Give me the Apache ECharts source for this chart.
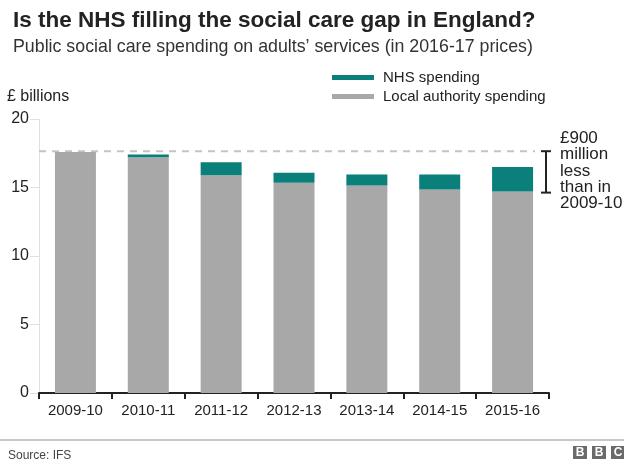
<!DOCTYPE html>
<html>
<head>
<meta charset="utf-8">
<script src="https://cdn.jsdelivr.net/npm/echarts@6/dist/echarts.min.js"></script>
<style>
html,body{margin:0;padding:0;background:#fff;}
#chart{width:624px;height:467px;}
</style>
</head>
<body>
<div id="chart"></div>
<script>
const categories = ['2009-10', '2010-11', '2011-12', '2012-13', '2013-14', '2014-15', '2015-16'];
const localAuthority = [17.6, 17.2, 15.9, 15.35, 15.15, 14.85, 14.7];
const nhs = [0, 0.2, 0.95, 0.73, 0.8, 1.1, 1.8];
const yMin = 0, yMax = 20, yInterval = 5;
const refLevel = 17.65;
const annotationLines = ['£900', 'million', 'less', 'than in', '2009-10'];

const FONT = '"Liberation Sans", Arial, Helvetica, sans-serif';
const TEAL = '#0b7f7a';
const GREY = '#a8a8a8';

const chart = echarts.init(document.getElementById('chart'), null, {renderer: 'canvas'});

const option = {
  animation: false,
  backgroundColor: '#fff',
  textStyle: {fontFamily: FONT},
  title: [
    {text: 'Is the NHS filling the social care gap in England?', left: 8, top: 2,
     textStyle: {fontFamily: FONT, fontSize: 22.5, fontWeight: 'bold', color: '#222', lineHeight: 28}},
    {text: 'Public social care spending on adults\u2019 services (in 2016-17 prices)', left: 8, top: 31,
     textStyle: {fontFamily: FONT, fontSize: 17.8, fontWeight: 'normal', color: '#333', lineHeight: 22}}
  ],
  legend: {
    orient: 'vertical', left: 327, top: 65, itemGap: 4,
    itemWidth: 42, itemHeight: 5, icon: 'rect',
    data: ['NHS spending', 'Local authority spending'],
    textStyle: {fontFamily: FONT, fontSize: 15, color: '#222', padding: [0, 0, 0, 4]},
    selectedMode: false
  },
  grid: {left: 39, right: 75, top: 119, bottom: 74, containLabel: false},
  xAxis: {
    type: 'category', data: categories,
    axisLine: {lineStyle: {color: '#222', width: 2}},
    axisTick: {show: true, length: 6, lineStyle: {color: '#222', width: 2}},
    axisLabel: {fontFamily: FONT, fontSize: 15, color: '#222', margin: 10}
  },
  yAxis: {
    type: 'value', min: yMin, max: yMax, interval: yInterval,
    axisLine: {show: true, lineStyle: {color: '#e0e0e0', width: 1}},
    axisTick: {show: true, length: 9, lineStyle: {color: '#e0e0e0'}},
    splitLine: {show: false},
    axisLabel: {fontFamily: FONT, fontSize: 16, color: '#222', margin: 10}
  },
  series: [
    {name: 'Local authority spending', type: 'bar', stack: 'total', data: localAuthority,
     barWidth: 41, itemStyle: {color: GREY}},
    {name: 'NHS spending', type: 'bar', stack: 'total', data: nhs,
     barWidth: 41, itemStyle: {color: TEAL}}
  ]
};
chart.setOption(option);

function addGraphics() {
  const yRef = chart.convertToPixel({yAxisIndex: 0}, refLevel);
  const yLast = chart.convertToPixel({yAxisIndex: 0}, localAuthority[localAuthority.length - 1]);
  const x0 = chart.convertToPixel({xAxisIndex: 0}, categories[0]);
  const xN = chart.convertToPixel({xAxisIndex: 0}, categories[categories.length - 1]);
  const band = (xN - x0) / (categories.length - 1);
  const left = x0 - band / 2;
  const right = xN + band / 2;
  const bx = right - 3;
  const elements = [
    {type: 'line', shape: {x1: left, y1: yRef, x2: right - 14, y2: yRef},
     style: {stroke: '#c4c4c4', lineWidth: 2, lineDash: [7, 6]}, z: 1},
    {type: 'line', shape: {x1: bx, y1: yRef, x2: bx, y2: yLast + 1}, style: {stroke: '#222', lineWidth: 2}},
    {type: 'line', shape: {x1: bx - 5, y1: yRef, x2: bx + 5, y2: yRef}, style: {stroke: '#222', lineWidth: 2}},
    {type: 'line', shape: {x1: bx - 5, y1: yLast + 1, x2: bx + 5, y2: yLast + 1}, style: {stroke: '#222', lineWidth: 2}},
    {type: 'text', left: 560, top: 130,
     style: {text: annotationLines.join('\n'), font: '17px ' + FONT, fill: '#222', lineHeight: 16.2}},
    {type: 'text', left: 7, top: 89,
     style: {text: '£ billions', font: '16px ' + FONT, fill: '#222'}},
    {type: 'rect', shape: {x: 0, y: 439, width: 624, height: 2}, style: {fill: '#c8c8c8'}},
    {type: 'text', left: 8, top: 450,
     style: {text: 'Source: IFS', font: '12px ' + FONT, fill: '#444'}}
  ];
  ['B', 'B', 'C'].forEach(function (ch, i) {
    elements.push({type: 'rect', shape: {x: 573 + i * 19, y: 446, width: 14, height: 13}, style: {fill: '#6a6a6a'}});
    elements.push({type: 'text', x: 580 + i * 19, y: 453,
      style: {text: ch, font: 'bold 12px ' + FONT, fill: '#fff', align: 'center', verticalAlign: 'middle'}});
  });
  chart.setOption({graphic: {elements: elements}});
}
addGraphics();
</script>
</body>
</html>
